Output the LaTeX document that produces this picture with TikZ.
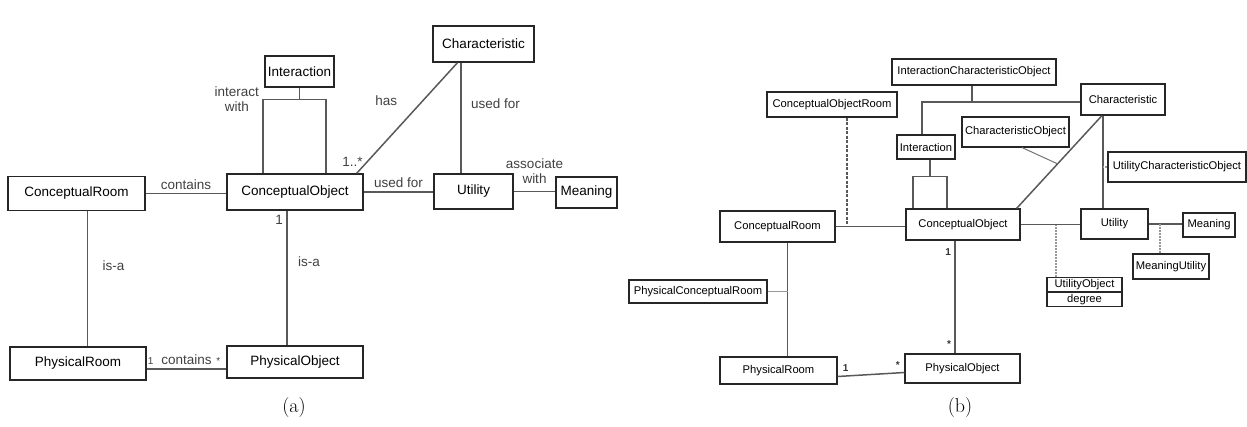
\documentclass[tikz,border=0pt]{standalone}
\usepackage{fontspec}
\setsansfont{Liberation Sans}
\usetikzlibrary{shapes.multipart}
\tikzset{cl/.append style={draw=black!85, line width=1.3pt, fill=white, rectangle, inner sep=1pt, font=\sffamily\fontsize{13.5}{15}\selectfont}}
\tikzset{cb/.append style={cl, line width=1.1pt, font=\sffamily\fontsize{11.2}{12}\selectfont}}
\tikzset{ln/.append style={draw=black!65, line width=1.5pt}}
\tikzset{dl/.append style={ln, dash pattern=on 3pt off 1.5pt}}
\tikzset{dg/.append style={draw=black!40, line width=1.3pt, dash pattern=on 2pt off 1pt}}
\tikzset{lb/.append style={font=\sffamily\fontsize{13.5}{15}\selectfont, text=black!75}}
\tikzset{sb/.append style={font=\sffamily\fontsize{10}{11}\selectfont, text=black!75}}
\tikzset{nb/.append style={font=\sffamily\bfseries\fontsize{10}{11}\selectfont, text=black!80}}

\begin{document}
\begin{tikzpicture}[x=1pt, y=-1pt]
\useasboundingbox (0,0) rectangle (1247,426);
                % (a)
                \node[cl, minimum width=137pt, minimum height=34pt] (cr) at (76.5,193.5) {ConceptualRoom};
                \node[cl, minimum width=136pt, minimum height=36pt] (co) at (295,192) {ConceptualObject};
                \node[cl, minimum width=79pt, minimum height=35pt] (ut) at (473.5,191.5) {Utility};
                \node[cl, minimum width=61pt, minimum height=31pt] (me) at (586.5,192.5) {Meaning};
                \node[cl, minimum width=101pt, minimum height=36pt] (ch) at (483.5,44) {Characteristic};
                \node[cl, minimum width=69pt, minimum height=31pt] (in) at (299.5,71.5) {Interaction};
                \node[cl, minimum width=136pt, minimum height=33pt] (pr) at (78,363.5) {PhysicalRoom};
                \node[cl, minimum width=136pt, minimum height=32pt] (po) at (295,362) {PhysicalObject};
                \coordinate (lt) at ([yshift=-12pt]in.south);
                \path (cr.east) edge[ln] node[lb, above]{contains} (cr.east -| co.west);
                \path (co.east) edge[ln] node[lb, above]{used for} (co.east -| ut.west);
                \path (ut.east) edge[ln] node[lb, above=4pt, align=center]{associate\\with} (ut.east -| me.west);
                \path ([xshift=-12.5pt]ut.north) edge[ln] node[lb, pos=0.63, right=6pt]{used for} ([xshift=-12.5pt]ut.north |- ch.south);
                \path ([xshift=-7pt]co.north east) edge[ln] node[lb, pos=0.1, left]{1..*} node[lb, pos=0.66, left=22pt]{has} ([xshift=-26pt]ch.south);
                \draw[ln] (in.south) -- (lt);
                \draw[ln] ([xshift=-32pt]co.north) |- node[lb, left, align=center]{interact\\with} (lt) -| ([xshift=31pt]co.north);
                \path ([xshift=11pt]cr.south) edge[ln] node[lb, pos=0.4, right=11pt]{is-a} ([xshift=11pt]cr.south |- pr.north);
                \path ([xshift=-8pt]co.south) edge[ln] node[lb, pos=0.07, left]{1} node[lb, pos=0.38, right=7pt]{is-a} ([xshift=-8pt]co.south |- po.north);
                \path ([yshift=-5.5pt]pr.east) edge[ln] node[sb, pos=0.05, above]{1} node[lb, above]{contains} node[sb, pos=0.9, above]{*} ([yshift=-5.5pt]pr.east -| po.west);
                \node[font=\fontsize{20}{22}\selectfont] (ta) at (294,408) {(a)};
                % (b)
                \node[cb, minimum width=164pt, minimum height=26pt] (ico) at (974,72) {InteractionCharacteristicObject};
                \node[cb, minimum width=130pt, minimum height=25pt] (cor) at (832,104.5) {ConceptualObjectRoom};
                \node[cb, minimum width=84pt, minimum height=31pt] (chb) at (1123,99.5) {Characteristic};
                \node[cb, minimum width=107pt, minimum height=30pt] (cho) at (1015.5,132) {CharacteristicObject};
                \node[cb, minimum width=58pt, minimum height=24pt] (inb) at (926,147) {Interaction};
                \node[cb, minimum width=138pt, minimum height=30pt] (uco) at (1177,167) {UtilityCharacteristicObject};
                \node[cb, minimum width=115pt, minimum height=31pt] (crb) at (777.5,226.5) {ConceptualRoom};
                \node[cb, minimum width=114pt, minimum height=31pt] (cob) at (963,224.5) {ConceptualObject};
                \node[cb, minimum width=67pt, minimum height=30pt] (utb) at (1114.5,224) {Utility};
                \node[cb, minimum width=52pt, minimum height=24pt] (meb) at (1209,225) {Meaning};
                \node[cb, minimum width=76pt, minimum height=25pt] (mu) at (1171,266.5) {MeaningUtility};
                \node[cb, rectangle split, rectangle split parts=2, minimum width=75pt, inner sep=1.5pt] (uo) at (1084.5,292) {UtilityObject\nodepart{two}degree};
                \node[cb, minimum width=138pt, minimum height=23pt] (pcr) at (698,291.5) {PhysicalConceptualRoom};
                \node[cb, minimum width=117pt, minimum height=27pt] (prb) at (778.5,370.5) {PhysicalRoom};
                \node[cb, minimum width=115pt, minimum height=29pt] (pob) at (962.5,368.5) {PhysicalObject};
                \coordinate (lb) at ([yshift=-17pt]inb.south);
                \coordinate (vb) at ([xshift=-20pt]chb.south);
                \coordinate (hb) at ([yshift=-2.5pt]chb.west);
                \draw[ln] (crb.east) -- (crb.east -| cob.west);
                \draw[dl] ([xshift=15pt]cor.south) -- ([xshift=15pt]cor.south |- crb.east);
                \draw[ln] ([xshift=10pt]crb.south) -- coordinate[pos=0.45] (pc) ([xshift=10pt]crb.south |- prb.north);
                \draw[ln, draw=black!40] (pcr.east) -- (pcr.east -| pc);
                \path ([yshift=-6pt]prb.east) edge[ln] node[nb, pos=0.12, above]{1} node[nb, pos=0.9, above]{*} ([yshift=-4pt]pob.west);
                \path ([xshift=-8pt]cob.south) edge[ln] node[nb, pos=0.1, left]{1} node[nb, pos=0.92, left]{*} ([xshift=-8pt]cob.south |- pob.north);
                \draw[ln] (cob.east) -- (cob.east -| utb.west);
                \draw[dg] ([xshift=-28.5pt]uo.north) -- ([xshift=-28.5pt]uo.north |- cob.east);
                \draw[ln] (utb.east) -- (utb.east -| meb.west);
                \draw[dg] ([xshift=-11pt]mu.north) -- ([xshift=-11pt]mu.north |- utb.east);
                \draw[ln] ([xshift=4pt]inb.south) -- ([xshift=4pt]inb.south |- lb);
                \draw[ln] ([xshift=-50pt]cob.north) |- (lb) -| ([xshift=-16pt]cob.north);
                \draw[ln] ([xshift=-4pt]inb.north) |- (hb);
                \draw[ln] ([xshift=-2pt]ico.south) -- ([xshift=-2pt]ico.south |- hb);
                \draw[ln] (vb) -- (vb |- utb.north);
                \draw[ln] ([xshift=-21pt]chb.south) -- coordinate[pos=0.52] (dm) ([xshift=-4pt]cob.north east);
                \draw[ln, draw=black!55, line width=1pt] ([xshift=6.5pt]cho.south) -- (dm);
                \draw[dg] (uco.west) -- (uco.west -| vb);
                \node[font=\fontsize{20}{22}\selectfont] (tb) at (960,408) {(b)};
            \end{tikzpicture}
\end{document}
